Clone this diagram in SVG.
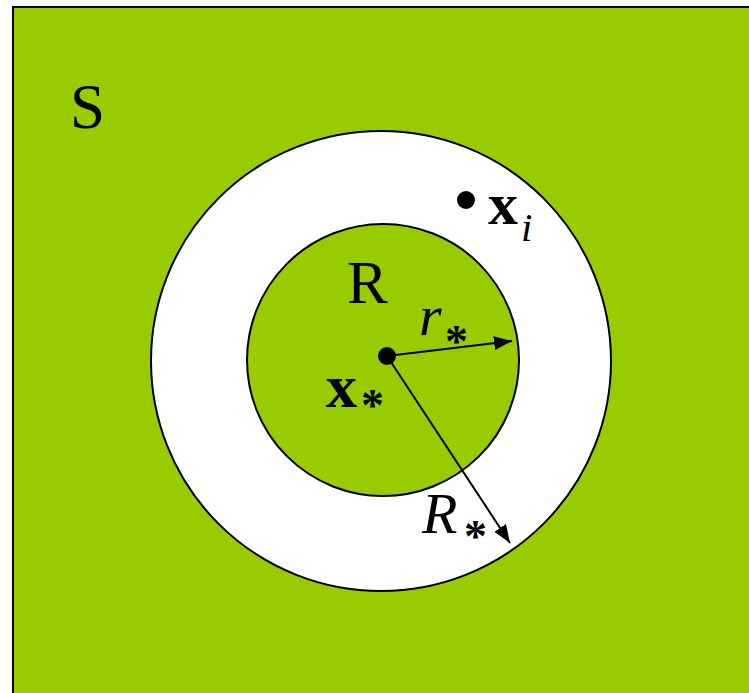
<svg xmlns="http://www.w3.org/2000/svg" width="749" height="693" viewBox="0 0 749 693">
<style>
.t{font-family:"Liberation Serif","Times New Roman",serif;fill:#000}
.ast{font-family:"Liberation Serif","Times New Roman",serif;fill:#000;font-size:46px;font-weight:bold}
.ln{stroke:#000;stroke-width:2;fill:none}
</style>
<defs>
<marker id="ah" viewBox="0 0 18 14" refX="18" refY="7" markerWidth="18" markerHeight="14" markerUnits="userSpaceOnUse" orient="auto">
<path d="M0,0 L18,7 L0,14 z" fill="#000"/>
</marker>
</defs>
<g id="S">
<rect x="13" y="7" width="745" height="700" fill="#99CC00" stroke="#000" stroke-width="2"/>
<text class="t" x="70" y="128" font-size="63">S</text>
</g>
<g id="annulus">
<circle cx="381" cy="361" r="230" fill="#fff" stroke="#000" stroke-width="2"/>
</g>
<g id="R">
<circle cx="383" cy="360" r="136" fill="#99CC00" stroke="#000" stroke-width="2"/>
<text class="t" x="347" y="303" font-size="61">R</text>
</g>
<g id="xi">
<circle cx="466" cy="200" r="9" fill="#000"/>
<text class="t" x="488" y="224" font-size="60" font-weight="bold">x</text>
<text class="t" x="521" y="241" font-size="41" font-style="italic">i</text>
</g>
<g id="connectors">
<line class="ln" x1="387" y1="356" x2="512" y2="341" marker-end="url(#ah)"/>
<line class="ln" x1="387" y1="356" x2="510" y2="543" marker-end="url(#ah)"/>
</g>
<g id="xstar">
<circle cx="387" cy="356" r="9" fill="#000"/>
<text class="t" x="326" y="407" font-size="62" font-weight="bold">x</text>
<text class="ast" x="361" y="421">*</text>
</g>
<g id="rstar">
<text class="t" x="419" y="335" font-size="58" font-style="italic">r</text>
<text class="ast" x="445" y="357">*</text>
</g>
<g id="Rstar">
<text class="t" x="422" y="533" font-size="58" font-style="italic">R</text>
<text class="ast" x="464" y="552">*</text>
</g>
</svg>
